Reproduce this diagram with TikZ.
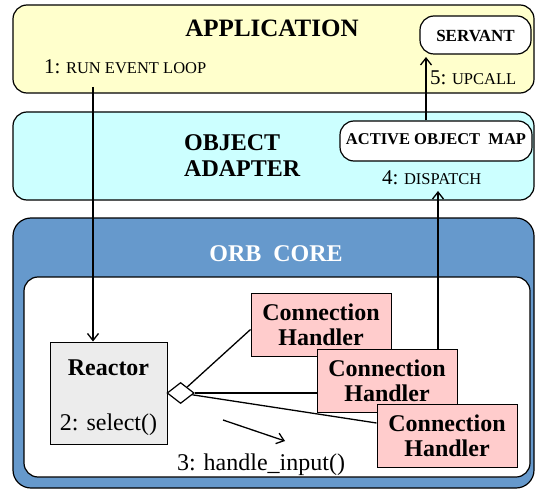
\documentclass[tikz,border=0pt]{standalone}
\usepackage{fontspec}
\setmainfont{LiberationSerif}[Extension=.ttf, UprightFont=*-Regular, BoldFont=*-Bold, ItalicFont=*-Italic, BoldItalicFont=*-BoldItalic]
\usetikzlibrary{shapes.geometric,arrows.meta}
\definecolor{appfill}{RGB}{255,255,204}
\definecolor{oafill}{RGB}{204,255,255}
\definecolor{orbfill}{RGB}{102,153,204}
\definecolor{reactfill}{RGB}{236,236,236}
\definecolor{chfill}{RGB}{255,204,204}
\newcommand{\fs}[2]{\fontsize{#1}{#2}\selectfont}
\begin{document}
\begin{tikzpicture}[x=1pt,y=-1pt,
  layer/.style={draw=black, line width=1.2pt, rounded corners=14pt, inner sep=0pt},
  pill/.style={draw=black, fill=white, line width=1.2pt, rounded corners=14pt, inner sep=0pt},
  handler/.style={draw=black, fill=chfill, line width=1pt, minimum width=140pt,
    minimum height=63pt, inner sep=0pt, align=center, font=\fs{24}{25}\bfseries},
  title/.style={font=\fs{24}{26}\bfseries, inner sep=0pt, anchor=base},
  steptext/.style={inner sep=0pt, anchor=base west},
  flow/.style={line width=1.3pt, -{Straight Barb[length=7pt,width=11pt,line width=1.3pt]}},
  link/.style={line width=1.3pt}
]
\useasboundingbox (0,0) rectangle (535,489);

% layers
\node[layer, fill=appfill, minimum width=521pt, minimum height=88pt] (app) at (273.5,49) {};
\node[layer, fill=oafill, minimum width=521pt, minimum height=88pt] (oa) at (273.5,156) {};
\node[layer, fill=orbfill, minimum width=521pt, minimum height=270pt, rounded corners=18pt] (orb) at (273.5,353) {};
\node[layer, fill=white, minimum width=506pt, minimum height=200pt] (inner) at (277,377) {};

% layer titles
\node[title, font=\fs{25}{27}\bfseries] (apptitle) at (272,37) {APPLICATION};
\node[title, anchor=base west] (oatitle1) at (184,151) {OBJECT};
\node[title, anchor=base west] (oatitle2) at (184,177) {ADAPTER};
\node[title, text=white] (orbtitle) at (276,261) {ORB\ \ CORE};

% application and adapter elements
\node[pill, minimum width=111pt, minimum height=38pt] (servant) at (475.5,35) {};
\node[title, font=\fs{17}{20}\bfseries] (servanttxt) at (475.5,42) {SERVANT};
\node[pill, minimum width=192pt, minimum height=40pt] (aom) at (436,141) {};
\node[title, font=\fs{16.5}{20}\bfseries] (aomtxt) at (436,145) {ACTIVE OBJECT\ \ MAP};

\node[steptext] (s1) at (44,74) {\fs{21}{24}1:\fs{16.5}{20} RUN EVENT LOOP};
\node[steptext] (s5) at (430,85) {\fs{21}{24}5:\fs{16.5}{20} UPCALL};
\node[steptext] (s4) at (382,185) {\fs{21}{24}4:\fs{16.5}{20} DISPATCH};

% ORB core elements
\node[draw=black, fill=reactfill, line width=1pt, minimum width=117pt, minimum height=102pt, inner sep=0pt] (reactor) at (108.5,393) {};
\node[title] (reactortxt) at (108.5,375) {Reactor};
\node[title, font=\fs{24}{26}] (selecttxt) at (108.5,430) {2: select()};
\node[diamond, draw=black, fill=white, line width=1.2pt, minimum width=27pt, minimum height=21pt, inner sep=0pt, anchor=west] (agg) at ([xshift=-1pt]reactor.east) {};

\node[handler] (ch1) at (321,324.5) {Connection\\Handler};
\node[handler] (ch2) at (387,381) {Connection\\Handler};
\node[handler] (ch3) at (447,436) {Connection\\Handler};

\draw[link] (agg) -- ([yshift=-5pt]ch1.west);
\draw[link] (agg.east) -- (agg.east -| ch2.west);
\draw[link] (agg) -- ([yshift=13pt]ch3.west);

\coordinate (h0) at (223,420);
\coordinate (h1) at (285,441);
\draw[flow] (h0) -- (h1);
\node[title, font=\fs{24}{26}] (handletxt) at (261,470) {3: handle\_input()};

% request path
\coordinate (loopstart) at (93,87);
\draw[flow] (loopstart) -- (loopstart |- reactor.north);
\coordinate (dispatchend) at (438,191);
\draw[flow] (dispatchend |- ch2.north) -- (dispatchend);
\coordinate (upcallend) at (426,57);
\draw[flow] (upcallend |- aom.north) -- (upcallend);
\end{tikzpicture}
\end{document}
